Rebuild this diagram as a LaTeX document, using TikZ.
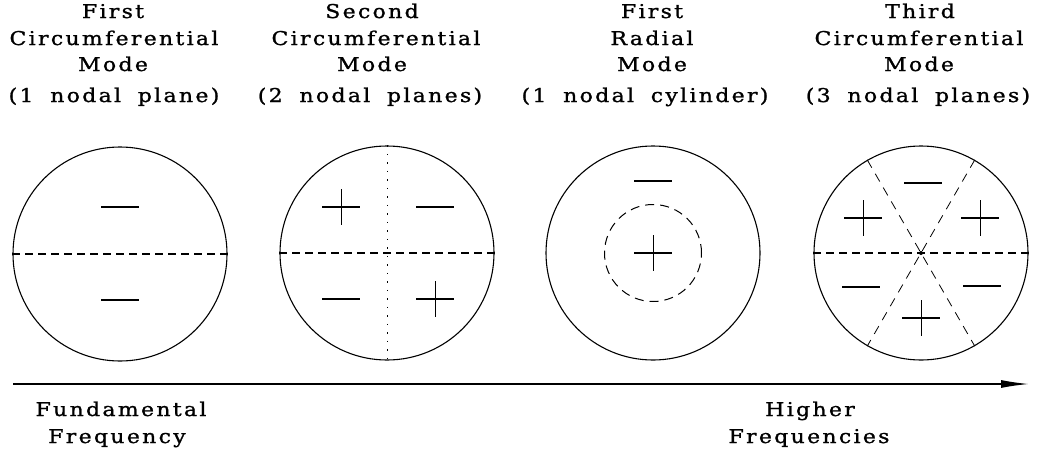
\documentclass[tikz,border=0pt]{standalone}
\usepackage{fontspec}
\setmainfont{DejaVu Serif}[LetterSpace=12, FakeStretch=1.16, FakeBold=1.2, WordSpace=1.8]
\usetikzlibrary{arrows.meta}
\tikzset{
  lbl/.style={anchor=base, inner sep=0pt, font=\fontsize{19}{22}\selectfont},
  disc/.style={circle, draw, line width=1.1pt, minimum size=214pt, inner sep=0pt},
  inner disc/.style={circle, draw, line width=1pt, dash pattern=on 9pt off 6pt, minimum size=97pt, inner sep=0pt},
  nodal/.style={line width=1.2pt, dash pattern=on 8pt off 5pt},
  nodalv/.style={line width=0.8pt, dash pattern=on 1.5pt off 7pt},
  nodald/.style={line width=0.8pt, dash pattern=on 9pt off 7pt},
  bar/.style={line width=1.6pt},
  vbar/.style={line width=0.7pt},
  pics/minussign/.style={code={\draw[bar] (-19,0) -- (19,0);}},
  pics/plussign/.style={code={\draw[bar] (-19,0) -- (19,0); \draw[vbar] (0,-18) -- (0,18);}}
}
\begin{document}
\begin{tikzpicture}[x=1pt,y=-1pt]
\useasboundingbox (0,0) rectangle (1044,453);
% titles
\node[lbl] (t1a) at (113,18) {First};
\node[lbl] (t1b) at (114,45) {Circumferential};
\node[lbl] (t1c) at (113,71) {Mode};
\node[lbl] (t1d) at (114,102) {(1 nodal plane)};
\node[lbl] (t2a) at (372,18) {Second};
\node[lbl] (t2b) at (376,45) {Circumferential};
\node[lbl] (t2c) at (372,71) {Mode};
\node[lbl] (t2d) at (370,102) {(2 nodal planes)};
\node[lbl] (t3a) at (652,18) {First};
\node[lbl] (t3b) at (652,45) {Radial};
\node[lbl] (t3c) at (652,71) {Mode};
\node[lbl] (t3d) at (645,102) {(1 nodal cylinder)};
\node[lbl] (t4a) at (920,18) {Third};
\node[lbl] (t4b) at (919,45) {Circumferential};
\node[lbl] (t4c) at (919,71) {Mode};
\node[lbl] (t4d) at (918,102) {(3 nodal planes)};
% circle 1
\node[disc] (c1) at (120,254) {};
\draw[nodal] (c1.west) -- (c1.east);
\pic at (120,207) {minussign};
\pic at (120,300) {minussign};
% circle 2
\node[disc] (c2) at (387,253) {};
\draw[nodal] (c2.west) -- (c2.east);
\draw[nodalv] (c2.north) -- (c2.south);
\pic at (341,207) {plussign};
\pic at (435,207) {minussign};
\pic at (341,299) {minussign};
\pic at (435,299) {plussign};
% circle 3
\node[disc] (c3) at (653,253) {};
\node[inner disc] (c3i) at (653,253) {};
\pic at (653,181) {minussign};
\pic at (653,253) {plussign};
% circle 4
\node[disc] (c4) at (921,253) {};
\draw[nodal] (c4.west) -- (c4.east);
\draw[nodald] (c4.120) -- (c4.300);
\draw[nodald] (c4.60) -- (c4.240);
\fill (c4.center) circle (2pt);
\pic at (923,183) {minussign};
\pic at (863,218) {plussign};
\pic at (980,218) {plussign};
\pic at (861,287) {minussign};
\pic at (982,286) {minussign};
\pic at (921,318) {plussign};
% axis
\coordinate (a0) at (13,384);
\coordinate (a1) at (1029,384);
\draw[line width=1.4pt, -{Latex[length=28pt,width=8pt]}] (a0) -- (a1);
\node[lbl] (f1) at (121,416) {Fundamental};
\node[lbl] (f2) at (117,443) {Frequency};
\node[lbl] (h1) at (810,416) {Higher};
\node[lbl] (h2) at (809,443) {Frequencies};
\end{tikzpicture}
\end{document}
